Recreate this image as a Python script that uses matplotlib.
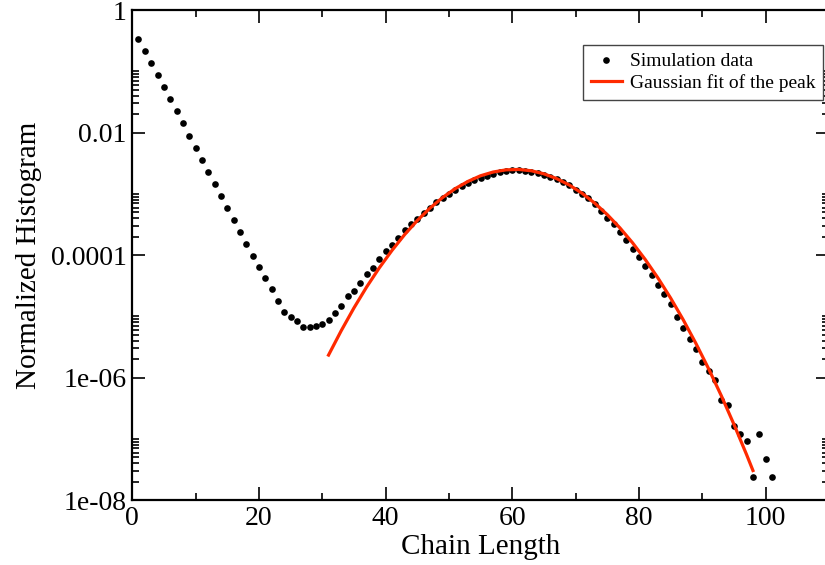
import numpy as np
import matplotlib
matplotlib.use("Agg")
import matplotlib.pyplot as plt
from matplotlib.ticker import FixedLocator, MultipleLocator, NullFormatter

plt.rcParams['font.family'] = ['Liberation Serif', 'DejaVu Serif']

# simulation histogram, one point per chain length
chain_length = np.arange(1, 102)
histogram = [
    0.339, 0.216, 0.1374, 0.0875, 0.0557, 0.0351, 0.0223, 0.01423, 0.00893, 0.00569,
    0.00358, 0.00228, 0.00145, 9.36e-4, 5.90e-4, 3.76e-4, 2.39e-4, 1.52e-4, 9.81e-5, 6.49e-5,
    4.20e-5, 2.81e-5, 1.79e-5, 1.20e-5, 9.91e-6, 8.34e-6, 6.81e-6, 6.81e-6, 6.98e-6, 7.45e-6,
    8.75e-6, 1.13e-5, 1.50e-5, 2.13e-5, 2.61e-5, 3.52e-5, 4.84e-5, 6.25e-5, 8.67e-5, 1.16e-4,
    1.45e-4, 1.91e-4, 2.55e-4, 3.19e-4, 3.94e-4, 4.89e-4, 5.97e-4, 7.31e-4, 8.59e-4, 1.01e-3,
    1.17e-3, 1.33e-3, 1.49e-3, 1.67e-3, 1.82e-3, 1.99e-3, 2.14e-3, 2.28e-3, 2.37e-3, 2.46e-3,
    2.46e-3, 2.40e-3, 2.31e-3, 2.20e-3, 2.06e-3, 1.91e-3, 1.73e-3, 1.58e-3, 1.38e-3, 1.16e-3,
    9.98e-4, 8.49e-4, 6.78e-4, 5.33e-4, 4.00e-4, 3.23e-4, 2.42e-4, 1.77e-4, 1.28e-4, 9.45e-5,
    6.59e-5, 4.75e-5, 3.23e-5, 2.30e-5, 1.58e-5, 9.91e-6, 6.55e-6, 4.33e-6, 2.91e-6, 1.78e-6,
    1.29e-6, 9.16e-7, 4.37e-7, 3.54e-7, 1.64e-7, 1.20e-7, 9.36e-8, 2.37e-8, 1.19e-7, 4.71e-8,
    2.37e-8,
]

# gaussian fit of the peak
fit_x = [31, 33, 35, 37, 39, 41, 43, 45, 47, 49, 51, 53, 55, 57, 59, 61, 63, 65,
         67, 69, 71, 73, 75, 77, 79, 81, 83, 85, 87, 89, 91, 93, 95, 97, 98]
fit_y = [2.34e-6, 5.84e-6, 1.37e-5, 3.01e-5, 6.18e-5, 1.19e-4, 2.16e-4, 3.67e-4,
         5.85e-4, 8.73e-4, 1.22e-3, 1.60e-3, 1.98e-3, 2.28e-3, 2.47e-3, 2.51e-3,
         2.39e-3, 2.13e-3, 1.78e-3, 1.40e-3, 1.03e-3, 7.11e-4, 4.60e-4, 2.79e-4,
         1.59e-4, 8.49e-5, 4.25e-5, 2.00e-5, 8.79e-6, 3.62e-6, 1.40e-6, 5.09e-7,
         1.73e-7, 5.53e-8, 3.05e-8]

ytick_values = [1, 1e-2, 1e-4, 1e-6, 1e-8]
ytick_labels = ['1', '0.01', '0.0001', '1e-06', '1e-08']

fig = plt.figure(figsize=(8.25, 5.65), dpi=100)
ax = fig.add_axes([0.1602, 0.1147, 0.8446, 0.8673])

ax.plot(chain_length, histogram, 'o', color='black', markersize=4.8, markeredgewidth=0,
        label='Simulation data')
ax.plot(fit_x, fit_y, '-', color='#ff2a00', linewidth=2.3, label='Gaussian fit of the peak')

ax.set_yscale('log')
ax.set_xlim(0, 110)
ax.set_ylim(1e-8, 1)

ax.xaxis.set_major_locator(MultipleLocator(20))
ax.xaxis.set_minor_locator(MultipleLocator(10))
ax.yaxis.set_major_locator(FixedLocator(ytick_values))
ax.set_yticklabels(ytick_labels)
minor_y = [k * 10.0 ** e for e in (-8, -6, -4, -2) for k in range(2, 11)]
ax.yaxis.set_minor_locator(FixedLocator(minor_y))
ax.yaxis.set_minor_formatter(NullFormatter())

ax.tick_params(which='both', direction='in', top=True, right=True, width=1.2, color='black')
ax.tick_params(which='major', length=9.4)
ax.tick_params(which='minor', length=4.7)
ax.tick_params(axis='x', labelsize=20, pad=4.5)
ax.tick_params(axis='y', labelsize=20, pad=4)

for s in ax.spines.values():
    s.set_linewidth(1.6)

ax.set_xlabel('Chain Length', fontsize=21, labelpad=2)
ax.set_ylabel('Normalized Histogram', fontsize=21, labelpad=6)

leg = ax.legend(loc='upper right', bbox_to_anchor=(0.9914, 0.929), borderaxespad=0,
                fontsize=14, fancybox=False, edgecolor='#444444', framealpha=1,
                handlelength=1.6, handletextpad=0.4, borderpad=0.4, labelspacing=0.2,
                numpoints=1)
leg.get_frame().set_linewidth(1.0)

fig.savefig('out.png', dpi=100)
